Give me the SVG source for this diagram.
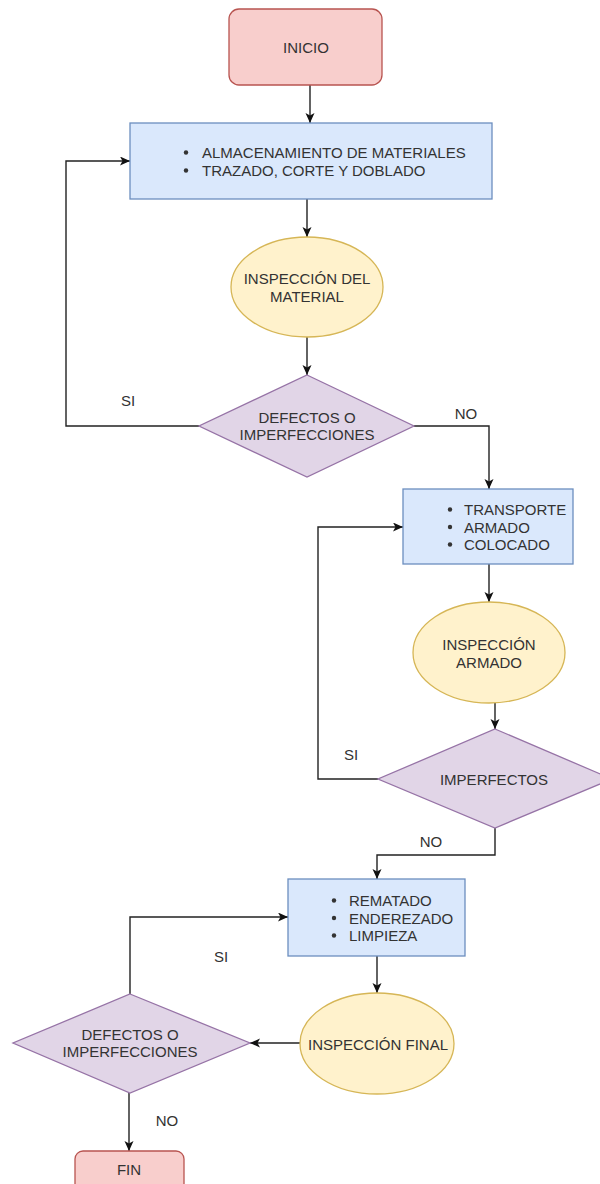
<svg xmlns="http://www.w3.org/2000/svg" width="600" height="1184" viewBox="0 0 600 1184">
  <defs>
    <marker id="arrow" markerUnits="userSpaceOnUse" markerWidth="12" markerHeight="10" refX="10" refY="4.5" orient="auto">
      <path d="M0,0 L10,4.5 L0,9 L2.5,4.5 Z" fill="#111"/>
    </marker>
    <style>
      .term { fill: #f8cecc; stroke: #b85450; stroke-width: 1.3; }
      .proc { fill: #dae8fc; stroke: #6c8ebf; stroke-width: 1.3; }
      .insp { fill: #fff2cc; stroke: #d6b656; stroke-width: 1.3; }
      .dec  { fill: #e1d5e7; stroke: #9673a6; stroke-width: 1.3; }
      text { font-family: "Liberation Sans", Arial, sans-serif; font-size: 15px; fill: #333; }
      .c { text-anchor: middle; }
      .dot { fill: #333; }
      .edge { fill: none; stroke: #222; stroke-width: 1.4; marker-end: url(#arrow); }
      .edge-plain { fill: none; stroke: #222; stroke-width: 1.4; }
    </style>
  </defs>
  <rect width="600" height="1184" fill="#ffffff"/>

  <!-- connectors -->
  <g id="connectors">
    <path class="edge" d="M310,85 V123"/>
    <path class="edge" d="M307,199 V237"/>
    <path class="edge" d="M307,337 V375"/>
    <path class="edge" d="M199,426 H66 V161 H130"/>
    <path class="edge" d="M414,426 H489 V489"/>
    <path class="edge" d="M489,564 V602"/>
    <path class="edge" d="M495,703 V729"/>
    <path class="edge" d="M378,779 H318 V527 H403"/>
    <path class="edge" d="M495,828 V855 H377 V879"/>
    <path class="edge" d="M377,956 V993"/>
    <path class="edge" d="M300,1043 H250"/>
    <path class="edge" d="M130,994 V917 H288"/>
    <path class="edge" d="M129,1093 V1151"/>
    <text x="128" y="406" class="c">SI</text>
    <text x="466" y="419" class="c">NO</text>
    <text x="351" y="760" class="c">SI</text>
    <text x="431" y="847" class="c">NO</text>
    <text x="221" y="962" class="c">SI</text>
    <text x="167" y="1126" class="c">NO</text>
  </g>

  <!-- start -->
  <g id="inicio">
    <rect class="term" x="229" y="9" width="153" height="76" rx="10"/>
    <text x="306" y="53" class="c">INICIO</text>
  </g>

  <!-- storage / cutting -->
  <g id="almacenamiento">
    <rect class="proc" x="130" y="123" width="362" height="76"/>
    <circle class="dot" cx="186" cy="152.5" r="2.2"/>
    <circle class="dot" cx="186" cy="170.5" r="2.2"/>
    <text x="202" y="158">ALMACENAMIENTO DE MATERIALES</text>
    <text x="202" y="176">TRAZADO, CORTE Y DOBLADO</text>
  </g>

  <g id="inspeccion-material">
    <ellipse class="insp" cx="307" cy="287" rx="76" ry="50"/>
    <text x="307" y="284" class="c">INSPECCIÓN DEL</text>
    <text x="307" y="302" class="c">MATERIAL</text>
  </g>

  <g id="defectos-1">
    <polygon class="dec" points="307,375 414,426 307,477 199,426"/>
    <text x="307" y="423" class="c">DEFECTOS O</text>
    <text x="307" y="440" class="c">IMPERFECCIONES</text>
  </g>

  <!-- transport / assembly -->
  <g id="transporte">
    <rect class="proc" x="403" y="489" width="170" height="75"/>
    <circle class="dot" cx="450" cy="509.5" r="2.2"/>
    <circle class="dot" cx="450" cy="527" r="2.2"/>
    <circle class="dot" cx="450" cy="544.5" r="2.2"/>
    <text x="464" y="515">TRANSPORTE</text>
    <text x="464" y="532.5">ARMADO</text>
    <text x="464" y="550">COLOCADO</text>
  </g>

  <g id="inspeccion-armado">
    <ellipse class="insp" cx="489" cy="652.5" rx="76" ry="50.5"/>
    <text x="489" y="650" class="c">INSPECCIÓN</text>
    <text x="489" y="668" class="c">ARMADO</text>
  </g>

  <g id="imperfectos">
    <polygon class="dec" points="495,729 612,779 495,828 378,779"/>
    <text x="494" y="785" class="c">IMPERFECTOS</text>
  </g>

  <!-- finishing -->
  <g id="rematado">
    <rect class="proc" x="288" y="879" width="177" height="77"/>
    <circle class="dot" cx="334" cy="900.5" r="2.2"/>
    <circle class="dot" cx="334" cy="918" r="2.2"/>
    <circle class="dot" cx="334" cy="935.5" r="2.2"/>
    <text x="349" y="906">REMATADO</text>
    <text x="349" y="923.5">ENDEREZADO</text>
    <text x="349" y="941">LIMPIEZA</text>
  </g>

  <g id="inspeccion-final">
    <ellipse class="insp" cx="377" cy="1043.5" rx="77" ry="50.5"/>
    <text x="378" y="1050" class="c">INSPECCIÓN FINAL</text>
  </g>

  <g id="defectos-2">
    <polygon class="dec" points="130,994 250,1043 130,1093 13,1043"/>
    <text x="130" y="1040" class="c">DEFECTOS O</text>
    <text x="130" y="1057" class="c">IMPERFECCIONES</text>
  </g>

  <!-- end -->
  <g id="fin">
    <rect class="term" x="75" y="1151" width="109" height="60" rx="8"/>
    <text x="129" y="1175" class="c">FIN</text>
  </g>
</svg>
